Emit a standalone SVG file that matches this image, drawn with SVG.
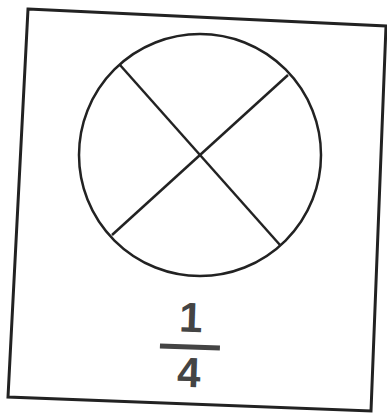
<svg xmlns="http://www.w3.org/2000/svg" width="387" height="413" viewBox="0 0 387 413">
<style>
.card{fill:#fff;stroke:#222;stroke-width:3;stroke-linejoin:miter}
.ln{fill:none;stroke:#222;stroke-width:2.5}
.num{font-family:"Liberation Sans",Arial,sans-serif;font-weight:bold;font-size:42px;fill:#444;text-anchor:middle}
</style>
<rect width="387" height="413" fill="#fff"/>
<g id="card">
<polygon class="card" points="28,9 386,26 371,411 8,397"/>
</g>
<g id="circle">
<circle class="ln" cx="200" cy="155" r="121"/>
</g>
<g id="connectors">
<line class="ln" x1="120" y1="65" x2="280" y2="245"/>
<line class="ln" x1="288" y1="75" x2="112" y2="235"/>
</g>
<g id="fraction" transform="rotate(2 190 345)">
<text class="num" x="190" y="332">1</text>
<line x1="160" y1="347" x2="220" y2="347" stroke="#444" stroke-width="5"/>
<text class="num" x="190" y="387">4</text>
</g>
</svg>
